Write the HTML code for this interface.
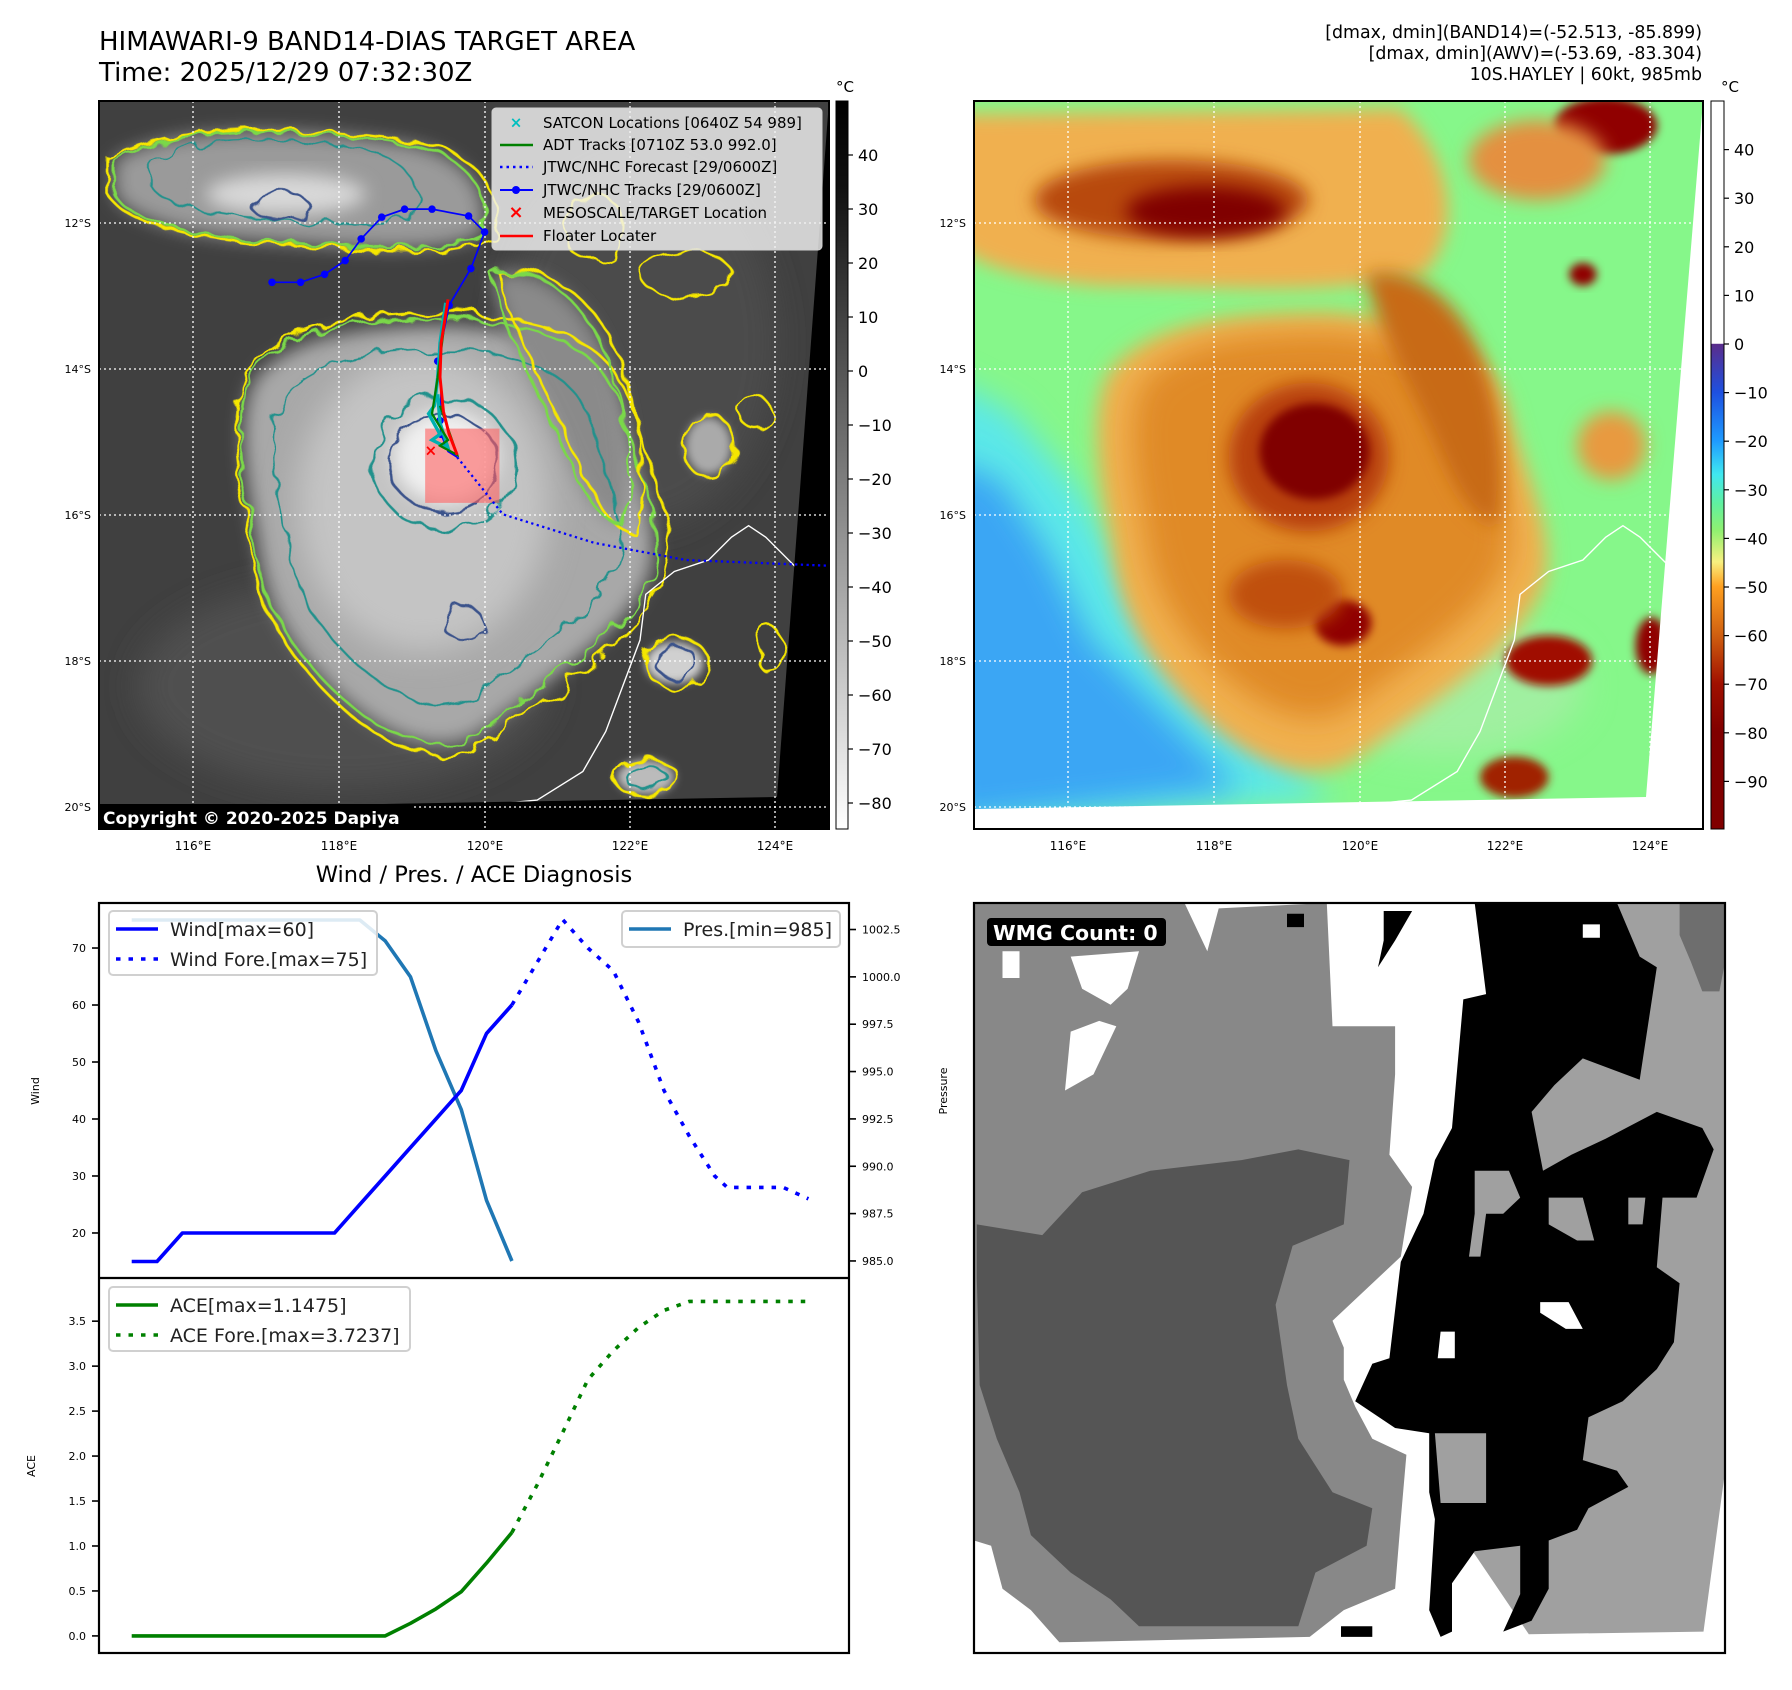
<!DOCTYPE html>
<html><head><meta charset="utf-8"><style>
html,body{margin:0;padding:0;background:#fff;}
svg{display:block;font-family:"DejaVu Sans","Liberation Sans",sans-serif;}
</style></head><body>
<svg id="fig" width="1792" height="1690" viewBox="0 0 1792 1690" xmlns="http://www.w3.org/2000/svg">
<defs>
  <clipPath id="clipMap1"><rect x="99" y="101" width="730" height="728"/></clipPath>
  <clipPath id="clipMap2"><rect x="974" y="101" width="729" height="728"/></clipPath>
  <filter id="blur8" x="-30%" y="-30%" width="160%" height="160%"><feGaussianBlur stdDeviation="8"/></filter>
  <filter id="blur14" x="-30%" y="-30%" width="160%" height="160%"><feGaussianBlur stdDeviation="14"/></filter>
  <filter id="blur4" x="-30%" y="-30%" width="160%" height="160%"><feGaussianBlur stdDeviation="4"/></filter>
  <filter id="wig" x="-10%" y="-10%" width="120%" height="120%">
    <feTurbulence type="fractalNoise" baseFrequency="0.05" numOctaves="2" seed="3"/>
    <feDisplacementMap in="SourceGraphic" scale="16"/>
  </filter>
  <linearGradient id="cb1" x1="0" y1="0" x2="0" y2="1">
    <stop offset="0" stop-color="#000"/><stop offset="0.12" stop-color="#111"/><stop offset="1" stop-color="#fff"/>
  </linearGradient>
  <linearGradient id="cb2" x1="0" y1="0" x2="0" y2="1">
    <stop offset="0" stop-color="#fff"/><stop offset="0.333" stop-color="#fff"/>
    <stop offset="0.334" stop-color="#5a2d8c"/><stop offset="0.4" stop-color="#1e50e0"/>
    <stop offset="0.467" stop-color="#1e9bff"/><stop offset="0.513" stop-color="#40e8f0"/>
    <stop offset="0.553" stop-color="#60f0a0"/><stop offset="0.59" stop-color="#90f070"/>
    <stop offset="0.633" stop-color="#f8f080"/><stop offset="0.667" stop-color="#ffa020"/>
    <stop offset="0.733" stop-color="#d06010"/><stop offset="0.8" stop-color="#a01000"/>
    <stop offset="0.867" stop-color="#800000"/><stop offset="1" stop-color="#800000"/>
  </linearGradient>
  <path id="stormS" d="M225,330 C260,290 330,285 400,285 C460,290 520,300 540,360 C555,420 585,470 565,510 C540,560 470,600 420,640 C380,665 330,640 290,600 C250,560 230,520 225,470 C215,420 205,360 225,330 Z"/>
  <path id="bandN" d="M100,140 C150,110 250,110 350,125 C420,135 430,180 420,205 C380,225 300,215 220,210 C160,205 110,190 100,170 Z"/>
  <path id="bandE" d="M430,240 C470,230 510,260 530,310 C550,360 555,420 545,460 C520,455 505,420 488,380 C465,330 440,290 430,240 Z"/>
</defs>

<text x="99" y="50" font-size="26" fill="#000">HIMAWARI-9 BAND14-DIAS TARGET AREA</text>
<text x="99" y="81" font-size="26" fill="#000">Time: 2025/12/29 07:32:30Z</text>
<g font-size="17.4" text-anchor="end" fill="#000">
  <text x="1702" y="38">[dmax, dmin](BAND14)=(-52.513, -85.899)</text>
  <text x="1702" y="59">[dmax, dmin](AWV)=(-53.69, -83.304)</text>
  <text x="1702" y="80">10S.HAYLEY | 60kt, 985mb</text>
</g>

<!-- ===== Map 1 (grayscale IR) ===== -->
<g clip-path="url(#clipMap1)">
  <rect x="99" y="101" width="730" height="728" fill="#404040"/>
  <g transform="scale(1.1429)">
    <ellipse cx="300" cy="600" rx="180" ry="90" fill="#505050" filter="url(#blur14)"/>
    <ellipse cx="560" cy="300" rx="120" ry="160" fill="#4c4c4c" filter="url(#blur14)"/>
    <use href="#bandN" fill="#9a9a9a" filter="url(#blur8)"/>
    <ellipse cx="250" cy="170" rx="70" ry="18" fill="#d8d8d8" filter="url(#blur8)"/>
    <use href="#stormS" fill="#a8a8a8" filter="url(#blur8)"/>
    <use href="#bandE" fill="#8a8a8a" filter="url(#blur8)"/>
    <ellipse cx="370" cy="440" rx="110" ry="130" fill="#c4c4c4" filter="url(#blur14)"/>
    <ellipse cx="390" cy="400" rx="45" ry="40" fill="#f0f0f0" filter="url(#blur8)"/>
    <ellipse cx="590" cy="580" rx="25" ry="18" fill="#d0d0d0" filter="url(#blur4)"/>
    <ellipse cx="620" cy="390" rx="20" ry="25" fill="#aaa" filter="url(#blur4)"/>
    <ellipse cx="565" cy="680" rx="25" ry="15" fill="#bbb" filter="url(#blur4)"/>
    <g fill="none" filter="url(#wig)" stroke-width="2.2">
      <use href="#stormS" stroke="#f5e600" transform="translate(-20,-28) scale(1.06)"/>
      <use href="#stormS" stroke="#7ad84a" transform="translate(-8,-12) scale(1.02)"/>
      <use href="#stormS" stroke="#21918c" transform="translate(58,64) scale(0.85)"/>
      <use href="#bandN" stroke="#f5e600" transform="translate(-10,-8) scale(1.05)"/>
      <use href="#bandN" stroke="#7ad84a"/>
      <use href="#bandN" stroke="#21918c" transform="translate(60,40) scale(0.72)"/>
      <use href="#bandE" stroke="#f5e600" transform="translate(-10,-10) scale(1.04)"/>
      <use href="#bandE" stroke="#7ad84a"/>
      <ellipse cx="388" cy="405" rx="48" ry="42" stroke="#3b528b"/>
      <ellipse cx="388" cy="405" rx="62" ry="58" stroke="#21918c"/>
      <ellipse cx="245" cy="180" rx="25" ry="12" stroke="#3b528b"/>
      <ellipse cx="592" cy="580" rx="28" ry="22" stroke="#f5e600"/>
      <ellipse cx="592" cy="580" rx="18" ry="14" stroke="#3b528b"/>
      <ellipse cx="405" cy="545" rx="18" ry="14" stroke="#3b528b"/>
      <ellipse cx="620" cy="390" rx="22" ry="28" stroke="#f5e600"/>
      <ellipse cx="660" cy="360" rx="14" ry="14" stroke="#f5e600"/>
      <ellipse cx="675" cy="570" rx="12" ry="20" stroke="#f5e600"/>
      <ellipse cx="565" cy="680" rx="28" ry="16" stroke="#f5e600"/>
      <ellipse cx="565" cy="680" rx="18" ry="10" stroke="#21918c"/>
      <ellipse cx="600" cy="240" rx="40" ry="20" stroke="#f5e600"/>
      <ellipse cx="520" cy="200" rx="28" ry="28" stroke="#f5e600"/>
    </g>
    <path d="M390,708 L420,705 470,700 510,675 530,640 545,600 560,560 565,520 590,500 620,490 640,470 655,460 670,470 690,490 700,500 705,470 720,440 722,400" fill="none" stroke="#fff" stroke-width="1.2"/>
  </g>
  <polygon points="829,101 829,829 99,829 99,809 777,797" fill="#000"/>
  <g stroke="#fff" stroke-width="1.3" stroke-dasharray="2 3">
    <line x1="193" y1="101" x2="193" y2="829"/><line x1="339" y1="101" x2="339" y2="829"/>
    <line x1="485" y1="101" x2="485" y2="829"/><line x1="630" y1="101" x2="630" y2="829"/>
    <line x1="775" y1="101" x2="775" y2="829"/>
    <line x1="99" y1="223" x2="829" y2="223"/><line x1="99" y1="369" x2="829" y2="369"/>
    <line x1="99" y1="515" x2="829" y2="515"/><line x1="99" y1="661" x2="829" y2="661"/>
    <line x1="99" y1="807" x2="829" y2="807"/>
  </g>
  <g transform="scale(1.1429)">
    <rect x="372" y="375" width="65" height="65" fill="#ff6060" opacity="0.6"/>
    <polyline points="400,400 440,450 520,475 600,490 725,495" fill="none" stroke="#0000ff" stroke-width="2" stroke-dasharray="2 3"/>
    <polyline points="238,247 263,247 284,240 302,228 316,209 334,190 354,183 378,183 410,189 424,203 412,235 393,267 383,316 386,341 385,368 386,380 392,395 400,400" fill="none" stroke="#0000ff" stroke-width="1.5"/>
    <g fill="#0000ff">
      <circle cx="238" cy="247" r="3.3"/><circle cx="263" cy="247" r="3.3"/><circle cx="284" cy="240" r="3.3"/><circle cx="302" cy="228" r="3.3"/><circle cx="316" cy="209" r="3.3"/><circle cx="334" cy="190" r="3.3"/><circle cx="354" cy="183" r="3.3"/><circle cx="378" cy="183" r="3.3"/><circle cx="410" cy="189" r="3.3"/><circle cx="424" cy="203" r="3.3"/><circle cx="412" cy="235" r="3.3"/><circle cx="393" cy="267" r="3.3"/><circle cx="383" cy="316" r="3.3"/><circle cx="385" cy="368" r="3.3"/><circle cx="386" cy="380" r="3.3"/>
    </g>
    <polyline points="390,265 385,300 383,330 380,355 375,362 385,380 378,385 392,392 385,370 383,345" fill="none" stroke="#00b0b0" stroke-width="3"/>
    <polyline points="388,290 383,330 378,362 392,385 385,390 400,398 392,375 385,355" fill="none" stroke="#008000" stroke-width="2"/>
    <polyline points="392,262 386,300 385,330 388,360 393,380 400,398" fill="none" stroke="#ff0000" stroke-width="2.6"/>
    <text x="377" y="395" font-size="13" font-weight="bold" fill="#ff0000" text-anchor="middle" dominant-baseline="middle">×</text>
  </g>
  <rect x="99" y="804" width="312" height="27" fill="#000"/>
  <text x="103" y="824" font-size="17" font-weight="bold" fill="#fff">Copyright © 2020-2025 Dapiya</text>
</g>
<rect x="99" y="101" width="730" height="728" fill="none" stroke="#000" stroke-width="2"/>
<g>
  <rect x="492" y="108" width="330" height="142" rx="4" fill="#f2f2f2" fill-opacity="0.82" stroke="#d0d0d0"/>
  <g font-size="15" fill="#000">
    <text x="516" y="123" fill="#00bfbf" font-weight="bold" text-anchor="middle" dominant-baseline="middle">×</text>
    <text x="543" y="128">SATCON Locations [0640Z 54 989]</text>
    <line x1="500" y1="145" x2="533" y2="145" stroke="#008000" stroke-width="2.5"/>
    <text x="543" y="150">ADT Tracks [0710Z 53.0 992.0]</text>
    <line x1="500" y1="167" x2="533" y2="167" stroke="#0000ff" stroke-width="2.5" stroke-dasharray="2.5 4"/>
    <text x="543" y="172">JTWC/NHC Forecast [29/0600Z]</text>
    <line x1="500" y1="190" x2="533" y2="190" stroke="#0000ff" stroke-width="2"/><circle cx="516" cy="190" r="4" fill="#0000ff"/>
    <text x="543" y="195">JTWC/NHC Tracks [29/0600Z]</text>
    <text x="516" y="213" fill="#ff0000" font-weight="bold" font-size="18" text-anchor="middle" dominant-baseline="middle">×</text>
    <text x="543" y="218">MESOSCALE/TARGET Location</text>
    <line x1="500" y1="236" x2="533" y2="236" stroke="#ff0000" stroke-width="2.5"/>
    <text x="543" y="241">Floater Locater</text>
  </g>
</g>

<!-- ===== Map 2 (colour AWV) ===== -->
<g clip-path="url(#clipMap2)">
  <rect x="974" y="101" width="729" height="728" fill="#86f78a"/>
  <g transform="scale(1.1429) translate(765,0)">
    <polygon points="60,330 120,360 180,430 230,520 300,600 360,660 400,700 60,720" fill="#5ce8e8" filter="url(#blur14)"/>
    <polygon points="60,400 110,420 150,480 190,560 260,630 320,690 60,720" fill="#3aa6f4" filter="url(#blur14)"/>
    <ellipse cx="500" cy="600" rx="120" ry="60" fill="#a0f0a0" filter="url(#blur14)"/>
    <path d="M70,100 L460,95 C500,130 520,200 480,240 C400,260 300,250 200,250 C130,245 80,230 70,210 Z" fill="#f0b050" filter="url(#blur8)"/>
    <ellipse cx="260" cy="175" rx="120" ry="35" fill="#b84a10" filter="url(#blur8)"/>
    <ellipse cx="290" cy="185" rx="70" ry="22" fill="#800000" filter="url(#blur8)"/>
    <ellipse cx="640" cy="110" rx="45" ry="25" fill="#900000" filter="url(#blur4)"/>
    <ellipse cx="580" cy="140" rx="60" ry="35" fill="#e49040" filter="url(#blur8)"/>
    <use href="#stormS" fill="#f0b050" filter="url(#blur8)" transform="translate(-40,-40) scale(1.1)"/>
    <use href="#stormS" fill="#e08a28" filter="url(#blur14)" transform="translate(30,30) scale(0.92)"/>
    <use href="#bandE" fill="#c86a18" filter="url(#blur8)"/>
    <ellipse cx="380" cy="400" rx="70" ry="65" fill="#b84010" filter="url(#blur8)"/>
    <ellipse cx="385" cy="395" rx="48" ry="42" fill="#800000" filter="url(#blur4)"/>
    <ellipse cx="410" cy="545" rx="25" ry="20" fill="#900000" filter="url(#blur4)"/>
    <ellipse cx="360" cy="520" rx="50" ry="30" fill="#c05010" filter="url(#blur8)"/>
    <ellipse cx="590" cy="578" rx="38" ry="22" fill="#a01000" filter="url(#blur4)"/>
    <ellipse cx="680" cy="565" rx="14" ry="25" fill="#900000" filter="url(#blur4)"/>
    <ellipse cx="620" cy="240" rx="12" ry="10" fill="#900000" filter="url(#blur4)"/>
    <ellipse cx="560" cy="680" rx="30" ry="18" fill="#a02000" filter="url(#blur4)"/>
    <ellipse cx="645" cy="390" rx="30" ry="30" fill="#e89a40" filter="url(#blur8)"/>
    <path d="M390,708 L420,705 470,700 510,675 530,640 545,600 560,560 565,520 590,500 620,490 640,470 655,460 670,470 690,490 700,500 705,470 720,440 722,400" fill="none" stroke="#fff" stroke-width="1.2"/>
  </g>
  <polygon points="1703,101 1703,829 974,829 974,809 1646,797" fill="#fff"/>
  <g stroke="#fff" stroke-width="1.3" stroke-dasharray="2 3">
    <line x1="1068" y1="101" x2="1068" y2="829"/><line x1="1214" y1="101" x2="1214" y2="829"/>
    <line x1="1360" y1="101" x2="1360" y2="829"/><line x1="1505" y1="101" x2="1505" y2="829"/>
    <line x1="1650" y1="101" x2="1650" y2="829"/>
    <line x1="974" y1="223" x2="1703" y2="223"/><line x1="974" y1="369" x2="1703" y2="369"/>
    <line x1="974" y1="515" x2="1703" y2="515"/><line x1="974" y1="661" x2="1703" y2="661"/>
    <line x1="974" y1="807" x2="1703" y2="807"/>
  </g>
</g>
<rect x="974" y="101" width="729" height="728" fill="none" stroke="#000" stroke-width="2"/>

<g font-size="11" fill="#000" text-anchor="end">
  <text x="91" y="227">12°S</text><text x="91" y="373">14°S</text><text x="91" y="519">16°S</text><text x="91" y="665">18°S</text><text x="91" y="811">20°S</text>
  <text x="966" y="227">12°S</text><text x="966" y="373">14°S</text><text x="966" y="519">16°S</text><text x="966" y="665">18°S</text><text x="966" y="811">20°S</text>
</g>
<g font-size="12" fill="#000" text-anchor="middle">
  <text x="193" y="850">116°E</text><text x="339" y="850">118°E</text><text x="485" y="850">120°E</text><text x="630" y="850">122°E</text><text x="775" y="850">124°E</text>
  <text x="1068" y="850">116°E</text><text x="1214" y="850">118°E</text><text x="1360" y="850">120°E</text><text x="1505" y="850">122°E</text><text x="1650" y="850">124°E</text>
</g>

<rect x="836" y="101" width="12" height="728" fill="url(#cb1)" stroke="#000" stroke-width="1"/>
<rect x="1711" y="101" width="13" height="728" fill="url(#cb2)" stroke="#000" stroke-width="1"/>
<text x="845" y="92" font-size="15" text-anchor="middle">°C</text>
<text x="1730" y="92" font-size="15" text-anchor="middle">°C</text>
<g id="cbTicks1" font-size="16" fill="#000"></g>
<g id="cbTicks2" font-size="16" fill="#000"></g>

<text x="474" y="882" font-size="22.5" text-anchor="middle">Wind / Pres. / ACE Diagnosis</text>
<g id="chart"></g>

<g id="wmg"></g>
<rect x="974" y="903" width="751" height="750" fill="none" stroke="#000" stroke-width="2.2"/>
<rect x="987" y="918" width="179" height="28" rx="4" fill="#000"/>
<text x="993" y="940" font-size="20.5" font-weight="bold" fill="#fff">WMG Count: 0</text>
</svg>

<script>
// ---- chart data ----
const obsIdx = [0,1,2,3,4,5,6,7,8,9,10,11,12,13,14,15];
const windObs = [15,15,20,20,20,20,20,20,20,25,30,35,40,45,55,60];
const presObs = [1003,1003,1003,1003,1003,1003,1003,1003,1003,1003,1001.9,1000,996.1,993,988.2,985];
const aceObs = [0,0,0,0,0,0,0,0,0,0,0,0.14,0.3,0.49,0.81,1.15];
const fcIdx = [15,17,18,19,20,21,22,23,23.5,25.7,26.7];
const windFc = [60,75,70,66,57,45,37,30,28,28,26];
const aceFcIdx = [15,16,17,18,19,20,21,22,23,24,25,26.7];
const aceFc = [1.15,1.68,2.26,2.85,3.17,3.43,3.62,3.72,3.72,3.72,3.72,3.72];
const windTicks = [20,30,40,50,60,70];
const presTicks = [985.0,987.5,990.0,992.5,995.0,997.5,1000.0,1002.5];
const aceTicks = [0.0,0.5,1.0,1.5,2.0,2.5,3.0,3.5];
const cb1Ticks = [40,30,20,10,0,-10,-20,-30,-40,-50,-60,-70,-80];
const cb2Ticks = [40,30,20,10,0,-10,-20,-30,-40,-50,-60,-70,-80,-90];

const NS = 'http://www.w3.org/2000/svg';
function mk(tag, attrs, parent){const e=document.createElementNS(NS,tag);for(const k in attrs)e.setAttribute(k,attrs[k]);parent.appendChild(e);return e;}

const L=99,R=849,T=903,M=1278,B=1653;
const xS = i => L + (i - (-1.29)) / (28.3 - (-1.29)) * (R-L);
const yWind = v => T + (77.9 - v) / (77.9 - 12.1) * (M-T);
const yPres = v => T + (1003.9 - v) / (1003.9 - 984.1) * (M-T);
const yAce = v => M + (3.98 - v) / (3.98 + 0.19) * (B-M);

const ch = document.getElementById('chart');
function line(xs, ys, yf, color, dash, name){
  const p = xs.map((x,i)=>xS(x).toFixed(1)+','+yf(ys[i]).toFixed(1)).join(' ');
  const el = mk('polyline',{points:p,fill:'none',stroke:color,'stroke-width':3.6,'stroke-linejoin':'round'},ch);
  if(dash) el.setAttribute('stroke-dasharray',dash);
  
  
}
mk('rect',{x:L,y:T,width:R-L,height:B-T,fill:'#fff'},ch);
line(obsIdx, presObs, yPres, '#1f77b4', null, 'pressure-line');
line(obsIdx, windObs, yWind, '#0000ff', null, 'wind-line');
line(fcIdx, windFc, yWind, '#0000ff', '4.5 8', 'wind-forecast-line');
line(obsIdx, aceObs, yAce, '#008000', null, 'ace-line');
line(aceFcIdx, aceFc, yAce, '#008000', '4.5 8', 'ace-forecast-line');

function ticks(vals, yf, side, fmt, name){
  const g = mk('g',{'font-size':11,fill:'#000'},ch);
  
  
  vals.forEach(v=>{
    const y=yf(v);
    if(side==='l'){mk('line',{x1:L-7,x2:L,y1:y,y2:y,stroke:'#000','stroke-width':1.6},g);
      const t=mk('text',{x:L-13,y:y+4,'text-anchor':'end'},g);t.textContent=fmt(v);}
    else {mk('line',{x1:R,x2:R+7,y1:y,y2:y,stroke:'#000','stroke-width':1.6},g);
      const t=mk('text',{x:R+13,y:y+4,'text-anchor':'start'},g);t.textContent=fmt(v);}
  });
}
ticks(windTicks, yWind, 'l', v=>String(v), 'wind-axis-ticks');
ticks(presTicks, yPres, 'r', v=>v.toFixed(1), 'pressure-axis-ticks');
ticks(aceTicks, yAce, 'l', v=>v.toFixed(1), 'ace-axis-ticks');
mk('rect',{x:L,y:T,width:R-L,height:B-T,fill:'none',stroke:'#000','stroke-width':2.2},ch);
mk('line',{x1:L,x2:R,y1:M,y2:M,stroke:'#000','stroke-width':2.2},ch);
function rot(x,y,txt,name){const t=mk('text',{x:x,y:y,'font-size':11,'text-anchor':'middle',transform:`rotate(-90 ${x} ${y})`},ch);t.textContent=txt;
  
  }
rot(39,1091,'Wind','wind-axis-title');
rot(947,1091,'Pressure','pressure-axis-title');
rot(35,1466,'ACE','ace-axis-title');

function legend(x,y,w,h,items,name){
  const g=mk('g',{},ch);
  
  
  mk('rect',{x:x,y:y,width:w,height:h,rx:4,fill:'#fff','fill-opacity':0.85,stroke:'#d0d0d0','stroke-width':2},g);
  items.forEach((it,i)=>{
    const cy=y+18+i*30;
    const l=mk('line',{x1:x+7,x2:x+49,y1:cy,y2:cy,stroke:it.c,'stroke-width':3.6},g);
    if(it.d) l.setAttribute('stroke-dasharray',it.d);
    const t=mk('text',{x:x+61,y:cy+7,'font-size':19,fill:'#222'},g);t.textContent=it.t;
  });
}
legend(109,911,268,64,[{c:'#0000ff',t:'Wind[max=60]'},{c:'#0000ff',d:'4.5 8',t:'Wind Fore.[max=75]'}],'wind-legend');
legend(622,911,218,36,[{c:'#1f77b4',t:'Pres.[min=985]'}],'pressure-legend');
legend(109,1287,301,64,[{c:'#008000',t:'ACE[max=1.1475]'},{c:'#008000',d:'4.5 8',t:'ACE Fore.[max=3.7237]'}],'ace-legend');

function cbt(id, vals, yf, x){const g=document.getElementById(id);
  vals.forEach(v=>{const y=yf(v);mk('line',{x1:x,x2:x+5,y1:y,y2:y,stroke:'#000','stroke-width':1.2},g);
    const t=mk('text',{x:x+10,y:y+6},g);t.textContent=(v<0?'\u2212'+(-v):String(v));});}
cbt('cbTicks1', cb1Ticks, v=>101+(50-v)*5.4, 848);
cbt('cbTicks2', cb2Ticks, v=>101+(50-v)*4.86, 1724);

const wg=document.getElementById('wmg');
const px=zx=>974+(zx-130)*0.569, py=zy=>903+(zy-100)*0.5357;
function poly(pts,fill){mk('polygon',{points:pts.map(p=>px(p[0]).toFixed(1)+','+py(p[1]).toFixed(1)).join(' '),fill:fill},wg);}
mk('rect',{x:974,y:903,width:751,height:750,fill:'#fff'},wg);
poly([[1030,100],[1450,100],[1450,1160],[1412,1460],[1105,1465],[1000,1300],[950,1090],[1030,1080]],'#a0a0a0');
poly([[1370,100],[1450,100],[1450,210],[1440,265],[1410,265],[1390,210],[1370,160]],'#6e6e6e');
poly([[130,100],[500,100],[540,190],[560,110],[750,100],[760,330],[870,330],[870,420],[860,570],[900,630],[880,760],[820,820],[760,880],[780,930],[780,990],[800,1040],[830,1100],[890,1130],[880,1250],[870,1380],[780,1420],[720,1470],[280,1480],[230,1420],[180,1380],[160,1300],[130,1290]],'#888');
poly([[180,190],[210,190],[210,240],[180,240]],'#fff');
poly([[300,200],[420,190],[400,260],[370,290],[320,260]],'#fff');
poly([[300,340],[350,320],[380,330],[340,420],[290,450]],'#fff');
poly([[135,700],[250,720],[320,640],[440,600],[600,580],[700,560],[790,580],[780,700],[690,740],[660,850],[680,1000],[700,1100],[760,1200],[830,1230],[820,1300],[730,1350],[700,1450],[420,1450],[370,1400],[300,1350],[230,1280],[210,1200],[170,1100],[140,1000],[135,800]],'#555');
poly([[1010,100],[1260,100],[1300,200],[1330,220],[1300,430],[1200,390],[1150,440],[1110,490],[1130,600],[1180,570],[1240,540],[1330,490],[1410,520],[1430,560],[1400,650],[1340,650],[1330,780],[1370,810],[1360,920],[1330,970],[1270,1030],[1210,1060],[1200,1140],[1260,1160],[1280,1190],[1210,1230],[1190,1270],[1140,1290],[1140,1380],[1110,1440],[1060,1460],[1090,1390],[1090,1300],[1010,1310],[970,1370],[970,1460],[950,1470],[930,1420],[940,1250],[930,1200],[930,1090],[870,1080],[800,1030],[830,960],[860,950],[880,770],[920,680],[940,580],[970,520],[990,280],[1030,270]],'#000');
poly([[1010,600],[1070,600],[1090,650],[1060,680],[1030,680],[1020,760],[1000,760],[1010,680]],'#a0a0a0');
poly([[940,1090],[1030,1090],[1030,1220],[950,1220]],'#a0a0a0');
poly([[1140,650],[1200,650],[1220,730],[1190,730],[1140,700]],'#a0a0a0');
poly([[1280,650],[1310,650],[1305,700],[1280,700]],'#a0a0a0');
poly([[1200,140],[1230,140],[1230,165],[1200,165]],'#fff');
poly([[1125,845],[1175,845],[1200,895],[1170,895],[1125,865]],'#fff');
poly([[950,900],[975,900],[975,950],[945,950]],'#fff');
poly([[680,120],[710,120],[710,145],[680,145]],'#000');
poly([[850,115],[900,115],[870,170],[840,220],[850,170]],'#000');
poly([[775,1450],[830,1450],[830,1470],[775,1470]],'#000');
</script>
</body></html>
